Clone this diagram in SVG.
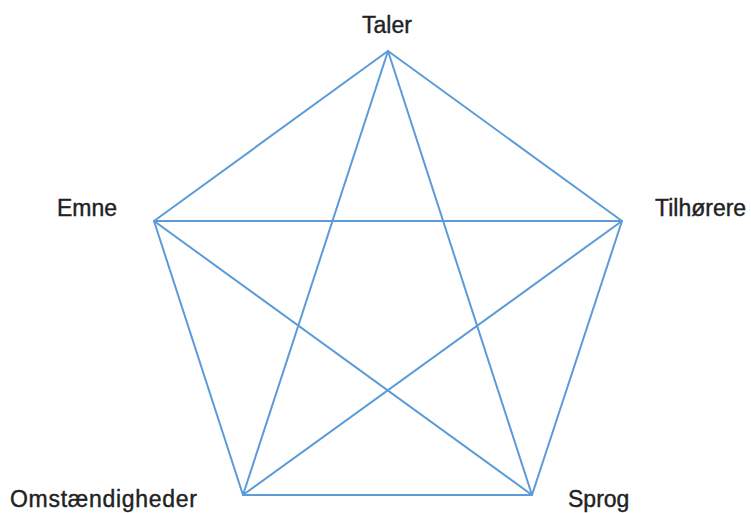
<svg xmlns="http://www.w3.org/2000/svg" width="751" height="513" viewBox="0 0 751 513">
<style>
.e{stroke:#5b9bd8;stroke-width:2;fill:none;stroke-linecap:round;stroke-linejoin:round}
.t{font-family:"Liberation Sans",Arial,sans-serif;font-size:23px;fill:#222;stroke:#222;stroke-width:0.4}
</style>
<rect width="751" height="513" fill="#fff"/>
<g id="connectors">
<polygon class="e" points="388,51 622,221 532,495 243,495 154,221"/>
<polyline class="e" points="388,51 532,495 154,221 622,221 243,495 388,51"/>
</g>
<g id="taler"><text class="t" x="387" y="33" text-anchor="middle">Taler</text></g>
<g id="emne"><text class="t" x="57" y="216">Emne</text></g>
<g id="tilhorere"><text class="t" x="655" y="216">Tilhørere</text></g>
<g id="omstaendigheder"><text class="t" x="10" y="507" textLength="187" lengthAdjust="spacing">Omstændigheder</text></g>
<g id="sprog"><text class="t" x="568" y="507">Sprog</text></g>
</svg>
